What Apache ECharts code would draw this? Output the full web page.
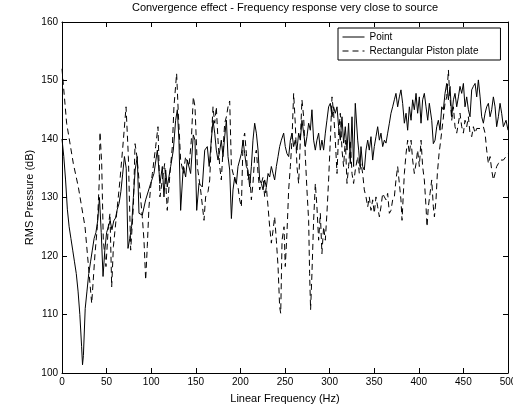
<!DOCTYPE html>
<html>
<head>
<meta charset="utf-8">
<script src="https://cdn.jsdelivr.net/npm/echarts@6/dist/echarts.min.js"></script>
<style>
  html, body { margin: 0; padding: 0; background: #fff; }
  #chart { width: 513px; height: 412px; }
</style>
</head>
<body>
<div id="chart"></div>
<script>
// frequency (Hz) / level (dB)
const pointFreq = [0, 2, 4, 6, 8, 10, 12, 14, 16, 18, 20, 22, 23, 24, 26, 28, 30, 32, 34, 36, 38, 40, 42, 44, 46, 48, 50, 52, 54, 56, 58, 60, 62, 64, 66, 68, 70, 72, 74, 76, 78, 80, 82,
  84.4, 86.3, 90, 93.8, 99.4, 103.1, 106.9, 109.8, 112.5, 114.3, 116.2, 118, 121.8, 124.8, 127.4, 129.3, 131.1, 133, 136, 138.6, 140.5, 144.2, 147.2, 149.1, 151, 153.6, 157.3, 160, 162.9,
  165, 167.4, 169.3, 171.2, 173, 174.9, 176.8, 178.6, 180.5, 182.4, 184.3, 186.1, 188, 189.9, 191.7, 193.6, 195.5, 197.3, 201.1, 203, 204.8, 206.7, 208.5, 210.4, 212.3, 214.1, 216, 217.9, 219.8, 221.6, 223.5, 225.4, 227.2, 229.1, 231, 232.8, 234.7, 236.6, 238.4, 240.3, 242.2, 244, 245.9,
  248.5, 250.3, 252.2, 254.1, 256, 257.8, 259.7, 261.5, 263.4, 265.3, 267.2, 269, 270.9, 272.8, 274.6, 276.5, 278.4, 280.2, 282.1, 284, 285.8, 287.7, 289.6, 291.4, 293.3, 295.2, 297, 298.9, 300.8, 302.7, 304.5, 306.4, 308.3, 310.1, 312, 313.9, 315.7, 317.6, 319.5, 321.3, 323.2, 325.1, 326.9, 328.8,
  331.5, 332.6, 334.1, 335.2, 337.1, 338.9, 340.8, 342.7, 344.5, 346.4, 348.3, 350.1, 352, 353.9, 355.8, 357.6, 359.5, 361.4, 363.2, 365.1, 367, 368.8, 370.7, 372.6, 374.4, 376.3, 378.2, 380, 381.9, 383.8, 385.7, 387.5, 389.4, 391.3, 393.1, 395, 396.9, 398.7, 400.6, 402.5, 404.3, 406.2, 408.1, 410, 411.8,
  414.5, 416.3, 418.2, 420.1, 421.9, 423.8, 425.7, 427.5, 429.4, 431.3, 433.2, 435, 436.9, 438.8, 440.6, 442.5, 444.4, 446.2, 448.1, 450, 451.8, 453.7, 455.6, 457.4, 459.3, 461.2, 463.1, 464.9, 466.8, 468.7, 470.5, 472.4, 474.3, 476.1, 478, 479.9, 481.7, 483.6, 485.5, 487.3, 489.2, 491.1, 492.9, 494.8, 497.8, 500];
const pointLevel = [140, 137, 133, 128, 125, 123, 121, 119, 117, 114, 110, 104.5, 101.4, 103, 111, 114, 117, 119, 121, 123, 124, 126, 130, 124, 116.5, 121, 124, 125, 126, 124.5, 126, 126.5, 128, 129, 131, 134, 137, 135, 121.3, 123, 125, 130, 134.7,
  137, 127.3, 127, 129.6, 132.4, 134.1, 138.1, 132.4, 135.3, 130.1, 134.7, 131.8, 135.3, 138.1, 143.2, 145, 139.8, 127.8, 135.3, 133.5, 136.4, 134.1, 140.7, 139.8, 127.8, 132.4, 131.8, 138.1, 138.7,
  135.3, 139.8, 143.2, 141, 138.1, 136.4, 138, 139.8, 137, 140.4, 143.2, 137, 134.7, 126.4, 131.3, 133.5, 132.4, 135.3, 137.5, 139.8, 137.5, 135.3, 134.7, 131.8, 135.3, 139.8, 142.7, 141, 138.1, 133, 132.4, 131.3, 133, 131.8, 134.1, 133.5, 135.3, 134.1, 133, 135.3, 137, 138.7, 139.8,
  141, 138.7, 137.5, 137, 139.8, 141, 138.7, 139.8, 138.1, 141, 139.8, 143.2, 141, 138.7, 140.4, 142.7, 141.5, 145, 139.8, 138.1, 139.8, 141, 138.1, 139.8, 138.1, 141, 143.2, 145.5, 146.1, 143.8, 145.5, 144.4, 145.5, 142.1, 139.8, 143.8, 139.3, 142.1, 138.1, 142.7, 135.8, 143.8, 135.3, 146.1,
  139.8, 138.1, 135.3, 138.7, 135.3, 134.7, 138.1, 139.8, 138.1, 140.4, 136.4, 138.7, 140.4, 142.1, 139.8, 141, 138.7, 139.8, 139.3, 141, 142.7, 144.4, 145.5, 146.7, 147.8, 145.5, 147.2, 148.4, 146.1, 142.7, 144.4, 141.5, 145.5, 143.2, 146.7, 145, 147.8, 144.4, 147.2, 142.7, 146.7, 147.8, 145.5, 143.2, 146.1,
  143.2, 139.2, 139.8, 142.1, 143.2, 141.5, 145.5, 145, 147.8, 149.5, 146.7, 149, 143.8, 146.7, 147.8, 145.5, 147.2, 149, 147.8, 149.5, 145.5, 147.2, 145, 143.8, 148.4, 149, 149.5, 147.2, 150.1, 147.2, 143.8, 142.7, 144.4, 145.5, 146.1, 143.8, 145, 147.2, 145.5, 142.1, 143.8, 146.1, 144.4, 142.1, 143.2, 141.5];

const plateFreq = [0, 5.2, 12.7, 18.3, 25.8, 33.3, 37, 39.6, 41.8, 42.6, 44.5, 46.3, 49.3, 51.9, 53.8, 55.7, 57.6, 61.3, 65, 68.8, 71.8, 74.4, 77, 80, 81.9,
  84, 86.3, 90, 91.9, 93.8, 95.6, 97.5, 99.4, 101.3, 105, 107.6, 109.8, 112.5, 115.1, 118, 121, 123.7, 125.5, 128.5, 130.4, 133, 136, 138.6, 142.4, 145, 147.2, 149.1, 151.7, 155.4, 159.2, 161, 163.7,
  165.6, 167.4, 169.3, 171.2, 173, 174.9, 176.8, 178.6, 180.5, 182.4, 184.3, 186.1, 188, 189.9, 193.6, 197.3, 199.2, 201.1, 203, 204.8, 206.7, 208.5, 210.4, 212.3, 214.1, 216, 217.9, 219.8, 221.6, 223.5, 225.4, 227.2, 229.1, 231, 232.8, 234.7, 236.6, 238.4, 240.3, 242.2, 244, 245.2, 246.7, 248.9,
  250.3, 252.2, 254.1, 256, 257.8, 259.7, 261.5, 263.4, 265.3, 267.2, 269, 270.9, 272.8, 274.6, 276.5, 277.6, 278.7, 280.2, 282.1, 284, 285.8, 287.7, 289.6, 291.4, 293.3, 295.2, 297, 298.9, 300.8, 302.7, 304.5, 306.4, 308.3, 310.1, 312, 313.9, 315.7, 317.6, 319.5, 321.3, 323.2, 325.1, 326.9, 328.8,
  331.5, 333.3, 335.2, 337.1, 338.9, 340.8, 342.7, 344.5, 346.4, 348.3, 350.1, 352, 353.9, 355.8, 357.6, 359.5, 361.4, 363.2, 365.1, 367, 368.8, 370.7, 372.6, 374.4, 376.3, 378.2, 380, 381.2, 382.7, 383.8, 385.7, 387.5, 389.4, 391.3, 393.1, 395, 396.9, 398.7, 400.6, 402.5, 404.3, 406.2, 408.1, 409.2, 410.7, 412.6,
  414.5, 416.3, 417.5, 419.3, 420.8, 422.7, 424.6, 426.8, 429.4, 431.3, 433.2, 434.3, 435.8, 436.9, 438.8, 440.6, 442.5, 444.4, 446.2, 448.1, 450, 451.8, 453.7, 455.6, 457.4, 459.3, 461.2, 463.1, 464.9, 466.8, 468.7, 470.5, 472.4, 474.3, 476.1, 478, 479.9, 481.7, 483.6, 485.5, 487.3, 489.2, 491.1, 492.9, 494.8, 497.8, 500];
const plateLevel = [152, 142.7, 135.8, 131.8, 125, 111.9, 120.4, 125, 133, 141.2, 135.8, 122.7, 118.2, 125, 127.3, 114.7, 121.6, 127.3, 133, 139.8, 145.5, 137, 121, 128.4, 139.2,
  137, 133, 126.7, 122.7, 115.9, 121.6, 128.4, 131.8, 134.1, 138.7, 142.1, 130.1, 133, 135.8, 127.8, 134.1, 138.7, 145.5, 151.2, 144.4, 136.4, 134.1, 137, 135.3, 139.8, 147.2, 145.5, 135.3, 131.3, 126.1, 130.1, 131,
  133, 139.8, 145.5, 142.7, 145.5, 139.8, 135.3, 133, 138.1, 142.7, 143.8, 145.5, 146.5, 135.3, 133, 131.8, 129.6, 128.4, 139.8, 141, 137.5, 133, 134.1, 129.6, 132.4, 137, 138.1, 134.1, 131.3, 132.4, 133.5, 130.1, 131.8, 128.4, 125, 122.2, 124.4, 126.7, 122.7, 118.2, 111.3, 110.2, 122.7, 125,
  118.2, 123.9, 131.3, 135.3, 139.8, 147.8, 142.7, 135.3, 132.4, 139.8, 146.7, 143.8, 137, 131.3, 126.1, 117, 110.8, 117, 126.1, 132.4, 128.4, 122.7, 127.3, 120.4, 125, 122.7, 127.3, 133, 139.8, 147.2, 144.4, 139.8, 134.1, 141, 144.4, 138.1, 135.3, 139.8, 132.4, 135.3, 139.8, 134.1, 132.4, 134.7,
  137, 134.1, 135.8, 134.1, 131.3, 130.1, 128.4, 130.1, 127.8, 129.6, 127.3, 130.1, 128.4, 126.7, 128.4, 130.7, 130.1, 129.6, 130.7, 127.3, 127.8, 129.6, 130.1, 133, 135.3, 132.4, 129.6, 126.1, 130.7, 134.1, 137.5, 139.8, 137.5, 139.8, 136.4, 134.1, 135.8, 138.1, 135.3, 139.8, 135.3, 133, 128.4, 125, 128.4, 130.7,
  133, 128.4, 126.7, 129.6, 134.1, 137.5, 139.8, 142.7, 146.1, 147.2, 151.8, 148.4, 145.5, 143.2, 145.5, 142.1, 141, 142.7, 144.4, 142.1, 141, 143.2, 142.1, 143.8, 141, 140.4, 142.1, 141, 141.8, 142.1, 141.8, 141.5, 142.1, 141, 138.1, 135.8, 137, 134.7, 133, 134.1, 135.3, 135.8, 136.4, 136.7, 136.4, 137, 137.5];

const xTicks = { min: 0, max: 500, interval: 50 };
const yTicks = { min: 100, max: 160, interval: 10 };

const pair = (xs, ys) => xs.map((x, i) => [x, ys[i]]);

const font = 'Liberation Sans, Arial, sans-serif';
const chart = echarts.init(document.getElementById('chart'), null, { renderer: 'canvas' });

const baseAxis = {
    type: 'value',
    axisLine: { show: true, onZero: false, lineStyle: { color: '#000', width: 1 } },
    axisTick: { show: true, inside: true, length: 5, lineStyle: { color: '#000' } },
    splitLine: { show: false },
    axisLabel: { color: '#000', fontSize: 10, fontFamily: font }
}

chart.setOption({
    animation: false,
    backgroundColor: '#fff',
    title: {
        text: 'Convergence effect - Frequency response very close to source',
        left: 285, top: 2, padding: 0, textAlign: 'center',
        textStyle: { fontSize: 11, fontWeight: 'normal', color: '#000', fontFamily: font }
    },
    legend: {
        left: 338, top: 28,
        orient: 'vertical',
        backgroundColor: '#fff',
        borderColor: '#000', borderWidth: 1,
        padding: [4, 22, 4, 4],
        itemWidth: 22, itemHeight: 8, itemGap: 4,
        itemStyle: { opacity: 0 },
        lineStyle: { width: 1 },
        textStyle: { fontSize: 10, color: '#000', fontFamily: font },
        data: ['Point', 'Rectangular Piston plate']
    },
    grid: { left: 62, right: 5, top: 22, bottom: 39, outerBoundsMode: 'none' },
    xAxis: [
        Object.assign({}, baseAxis, xTicks, {
            position: 'bottom',
            name: 'Linear Frequency (Hz)', nameLocation: 'middle', nameGap: 20,
            nameTextStyle: { fontSize: 11, color: '#000', fontFamily: font },
            axisLabel: Object.assign({}, baseAxis.axisLabel, { margin: 4 })
        }),
        Object.assign({}, baseAxis, xTicks, { position: 'top', axisLabel: { show: false } })
    ],
    yAxis: [
        Object.assign({}, baseAxis, yTicks, {
            position: 'left',
            name: 'RMS Pressure (dB)', nameLocation: 'middle', nameGap: 27, nameMoveOverlap: false,
            nameTextStyle: { fontSize: 11, color: '#000', fontFamily: font },
            axisLabel: Object.assign({}, baseAxis.axisLabel, { margin: 4 })
        }),
        Object.assign({}, baseAxis, yTicks, { position: 'right', axisLabel: { show: false } })
    ],
    series: [
        {
            name: 'Point', type: 'line', symbol: 'none',
            data: pair(pointFreq, pointLevel),
            lineStyle: { color: '#000', width: 1 },
            itemStyle: { color: '#000' }
        },
        {
            name: 'Rectangular Piston plate', type: 'line', symbol: 'none',
            data: pair(plateFreq, plateLevel),
            lineStyle: { color: '#000', width: 1, type: [6, 4] },
            itemStyle: { color: '#000' }
        }
    ]
})
</script>
</body>
</html>
